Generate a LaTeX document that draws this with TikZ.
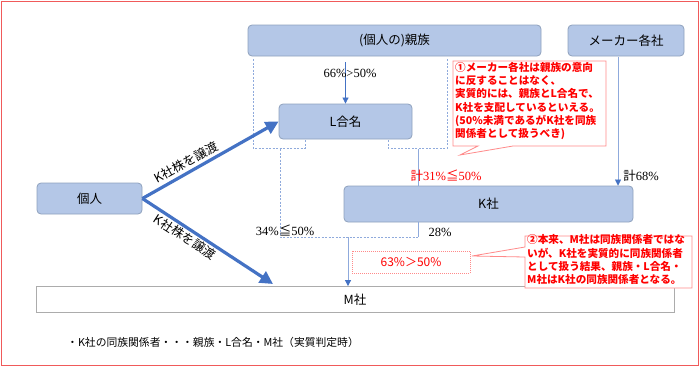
\documentclass[tikz,border=0pt]{standalone}
\usepackage{fontspec}
\setmainfont{Liberation Serif}
\newfontfamily\jp{Noto Sans CJK JP}
\usetikzlibrary{arrows.meta}
\definecolor{boxfill}{HTML}{B4C7E7}
\definecolor{boxline}{HTML}{8FA1BD}
\definecolor{arrblue}{HTML}{4472C4}
\definecolor{dashblue}{HTML}{8FAADC}
\definecolor{brdred}{HTML}{F05A5A}
\definecolor{callred}{HTML}{FF8A8A}
\definecolor{txtred}{HTML}{FF0000}
\begin{document}
\begin{tikzpicture}[x=1pt,y=-1pt,
  ent/.style={draw=boxline, fill=boxfill, rounded corners=4pt, line width=0.8pt, inner sep=0pt, font=\jp\fontsize{12.5}{14}\selectfont},
  thickarr/.style={arrblue, line width=3.2pt, -{Triangle[length=13pt,width=13pt]}},
  thinarr/.style={arrblue, line width=0.7pt, -{Triangle[length=6pt,width=6pt]}},
  grp/.style={dashblue, line width=0.8pt, dash pattern=on 2pt off 1.5pt},
  solidlink/.style={dashblue, line width=0.8pt},
  lbl/.style={font=\fontsize{12.5}{14}\selectfont, inner sep=0pt},
  calltext/.style={font=\jp\bfseries\fontsize{10.6}{13.3}\selectfont, text=txtred, align=left, inner sep=0pt, anchor=north west},
  callbox/.style={draw=callred, fill=white, line width=0.8pt}
]
\useasboundingbox (0,0) rectangle (700,367);
\draw[brdred, line width=1pt] (1.5,1.5) rectangle (698.5,365);

% boxes
\node[ent, minimum width=293pt, minimum height=31pt] (sz) at (394.5,40.5) {(個人の)親族};
\node[ent, minimum width=116pt, minimum height=31pt] (mk) at (626,40.5) {メーカー各社};
\node[ent, minimum width=133pt, minimum height=35pt] (L) at (345.5,121.5) {L合名};
\node[ent, minimum width=105pt, minimum height=31pt] (kj) at (89.5,198.5) {個人};
\node[ent, minimum width=289pt, minimum height=36pt] (K) at (488.5,204) {K社};
\node[draw=gray!65, line width=0.8pt, inner sep=0pt, minimum width=638pt, minimum height=26pt, font=\jp\fontsize{12.5}{14}\selectfont] (M) at (355,299.5) {M社};

% group dashed outlines around L
\draw[grp] (253,59) -- (253,148) -- (305,148) -- (305,140);
\draw[grp] (447,59) -- (447,148) -- (388,148) -- (388,140);

% links
\coordinate (rl) at (418,149);
\coordinate (ll) at (280,149);
\coordinate (jn) at (348,237);
\draw[solidlink] (rl) -- (rl |- K.north);
\draw[solidlink] (rl |- K.south) -- (418,237);
\draw[grp] (ll) -- (280,237) -- (418,237);
\draw[grp, -{Triangle[length=6pt,width=6pt]}, arrblue] (jn) -- (jn |- M.north);
\draw[dashblue, line width=0.8pt] (jn) -- ([yshift=6pt]jn |- M.north);

\draw[thinarr] ([yshift=-6pt]L.north |- sz.south) -- (L.north);
\draw[dashblue, line width=0.8pt] ([xshift=-8pt,yshift=-1pt]mk.south) -- ([xshift=-8pt,yshift=5pt]mk.south |- K.north);
\draw[thinarr, line width=0.1pt] ([xshift=-8pt,yshift=6pt]mk.south |- K.north) -- ([xshift=-8pt]mk.south |- K.north);

% thick arrows
\coordinate (mt) at (273,284);
\draw[thickarr] (kj.east) -- (L.west);
\draw[thickarr] (kj.east) -- (mt);
\node[lbl, font=\jp\fontsize{12.5}{14}\selectfont, rotate=29] (t1) at (186,162) {K社株を譲渡};
\node[lbl, font=\jp\fontsize{12.5}{14}\selectfont, rotate=-33] (t2) at (185,237) {K社株を譲渡};

% percent labels
\node[lbl] (p66) at (350,73) {66\%>50\%};
\node[lbl] (p68) at (641,176) {{\jp 計}68\%};
\node[lbl, text=txtred] (p31) at (446,176) {{\jp 計}31\%{\jp ≦}50\%};
\node[lbl] (p34) at (285,230) {34\%{\jp ≦}50\%};
\node[lbl] (p28) at (440,232) {28\%};

% 63% box
\draw[callred, line width=0.7pt, dash pattern=on 1pt off 1pt] (352,251) rectangle (470,273);
\node[font=\jp\fontsize{12}{14}\selectfont, text=txtred, inner sep=0pt] (p63) at (411,262) {63\%＞50\%};

% callout 1
\draw[callbox] (453,61) -- (606,61) -- (606,146) -- (513,146) -- (460,155) -- (478,146) -- (453,146) -- cycle;
\node[calltext] (c1) at (455,62) {①メーカー各社は親族の意向\\に反することはなく、\\実質的には、親族とL合名で、\\K社を支配しているといえる。\\(50\%未満であるがK社を同族\\関係者として扱うべき)};

% callout 2
\draw[callbox] (525,236) -- (692,236) -- (692,288) -- (525,288) -- (525,257) -- (472,256) -- (525,247) -- cycle;
\node[calltext] (c2) at (527,234.5) {②本来、M社は同族関係者ではな\\いが、K社を実質的に同族関係者\\として扱う結果、親族・L合名・\\M社はK社の同族関係者となる。};

% bottom note
\node[font=\jp\fontsize{10.8}{13}\selectfont, anchor=west, inner sep=0pt] (note) at (67,342) {・K社の同族関係者・・・親族・L合名・M社（実質判定時）};
\end{tikzpicture}
\end{document}
